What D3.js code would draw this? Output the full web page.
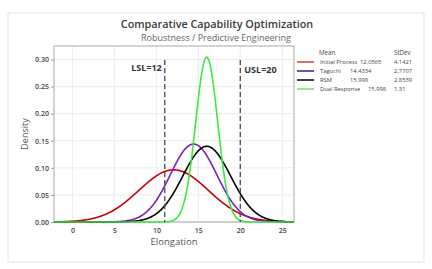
<!DOCTYPE html>
<html>
<head>
<meta charset="utf-8">
<script src="https://cdn.jsdelivr.net/npm/d3@7"></script>
<style>
  body { margin: 0; background: #fff; font-family: "Open Sans", "Noto Sans", sans-serif; }
</style>
</head>
<body>
<svg id="chart" width="432" height="269"></svg>
<script>
var width = 432
var height = 269
var margin = { top: 46, right: 138, bottom: 47, left: 54 }

// 数据
var seriesNames = ["Initial Process", "Taguchi", "RSM", "Dual Response"]
var seriesMeans = [12.0565, 14.4334, 15.998, 15.998]
var seriesSds = [4.1421, 2.7707, 2.8539, 1.31]
var seriesColors = ["#c8000a", "#7a1fc2", "#000000", "#3ee83e"]
var legendColors = ["#d24b4b", "#4a1fb0", "#111111", "#7ee07e"]
var xTicks = [0, 5, 10, 15, 20, 25]
var yTicks = [0, 0.05, 0.10, 0.15, 0.20, 0.25, 0.30]
var specLines = [{ label: "LSL=12", x: 11 }, { label: "USL=20", x: 20 }]

var svg = d3.select("#chart")

// 卡片背景
svg.append("rect")
    .attr("x", 8).attr("y", 13)
    .attr("width", 416).attr("height", 249)
    .attr("fill", "#fff")
    .attr("stroke", "#e3e3e3")

// 标题
svg.append("text")
    .attr("x", 217).attr("y", 28)
    .attr("text-anchor", "middle")
    .attr("font-size", 10.8).attr("font-weight", 600)
    .attr("fill", "#3a3a3a")
    .text("Comparative Capability Optimization")
svg.append("text")
    .attr("x", 216).attr("y", 40.5)
    .attr("text-anchor", "middle")
    .attr("font-size", 9)
    .attr("fill", "#666")
    .text("Robustness / Predictive Engineering")

var plotW = width - margin.left - margin.right
var plotH = height - margin.top - margin.bottom

var xScale = d3.scaleLinear().domain([-2.2, 26.4]).range([0, plotW])
var yScale = d3.scaleLinear().domain([0, 0.325]).range([plotH, 0])

var g = svg.append("g")
    .attr("transform", "translate(" + margin.left + "," + margin.top + ")")

// 网格
g.selectAll(".vgrid").data(xTicks).enter().append("line")
    .attr("x1", function (d) { return xScale(d) }).attr("x2", function (d) { return xScale(d) })
    .attr("y1", 0).attr("y2", plotH)
    .attr("stroke", "#ececec")
g.selectAll(".hgrid").data(yTicks).enter().append("line")
    .attr("x1", 0).attr("x2", plotW)
    .attr("y1", function (d) { return yScale(d) }).attr("y2", function (d) { return yScale(d) })
    .attr("stroke", "#ececec")

// 坐标轴
var xAxis = d3.axisBottom(xScale).tickValues(xTicks).tickSize(0).tickPadding(6).tickFormat(d3.format("d"))
var yAxis = d3.axisLeft(yScale).tickValues(yTicks).tickSize(3).tickPadding(2).tickFormat(d3.format(".2f"))
var xg = g.append("g").attr("transform", "translate(0," + plotH + ")").call(xAxis)
var yg = g.append("g").call(yAxis)
;[xg, yg].forEach(function (a) {
    a.select(".domain").remove()
    a.selectAll("line").attr("stroke", "#999")
    a.selectAll("text").attr("font-size", 7).attr("font-weight", 600).attr("fill", "#444")
        .attr("font-family", "Open Sans, sans-serif")
})

g.append("rect")
    .attr("width", plotW).attr("height", plotH)
    .attr("fill", "none").attr("stroke", "#a8a8a8")

// 坐标轴标题
svg.append("text")
    .attr("x", margin.left + plotW / 2).attr("y", 245)
    .attr("text-anchor", "middle")
    .attr("font-size", 9.5).attr("fill", "#555")
    .text("Elongation")
svg.append("text")
    .attr("transform", "translate(28," + (margin.top + plotH / 2) + ") rotate(-90)")
    .attr("text-anchor", "middle")
    .attr("font-size", 9).attr("fill", "#555")
    .text("Density")

// 密度曲线 (normal pdf from legend mean / stdev)
var xs = d3.range(-2.2, 26.41, 0.05)
function pdf(x, m, s) {
    return Math.exp(-0.5 * Math.pow((x - m) / s, 2)) / (s * Math.sqrt(2 * Math.PI))
}
var line = d3.line()
    .x(function (d) { return xScale(d[0]) })
    .y(function (d) { return yScale(d[1]) })
    .curve(d3.curveBasis)

seriesNames.forEach(function (name, i) {
    var pts = xs.map(function (x) { return [x, pdf(x, seriesMeans[i], seriesSds[i])] })
    g.append("path")
        .datum(pts)
        .attr("d", line)
        .attr("fill", "none")
        .attr("stroke", seriesColors[i])
        .attr("stroke-width", 1.6)
})

// 规格线
specLines.forEach(function (s, i) {
    g.append("line")
        .attr("x1", xScale(s.x)).attr("x2", xScale(s.x))
        .attr("y1", 14).attr("y2", plotH)
        .attr("stroke", "#555").attr("stroke-width", 1.4)
        .attr("stroke-dasharray", "5,3")
    g.append("text")
        .attr("x", i == 0 ? xScale(s.x) - 3 : xScale(s.x) + 4)
        .attr("y", i == 0 ? 25 : 27)
        .attr("text-anchor", i == 0 ? "end" : "start")
        .attr("font-size", 9).attr("font-weight", "bold").attr("fill", "#333")
        .text(s.label)
})

// 图例
var lg = svg.append("g").attr("font-size", 5.8).attr("fill", "#444")
lg.append("text").attr("x", 319).attr("y", 55).attr("font-size", 6.2).text("Mean")
lg.append("text").attr("x", 394).attr("y", 55).attr("font-size", 6.2).text("StDev")
var meanX = [360, 350, 350, 368]
seriesNames.forEach(function (name, i) {
    var y = 62 + i * 9
    lg.append("line")
        .attr("x1", 297).attr("x2", 314)
        .attr("y1", y).attr("y2", y)
        .attr("stroke", legendColors[i]).attr("stroke-width", 1.6)
    lg.append("text").attr("x", 320).attr("y", y + 2).text(name)
    lg.append("text").attr("x", meanX[i]).attr("y", y + 2).text(seriesMeans[i])
    lg.append("text").attr("x", 394).attr("y", y + 2).text(seriesSds[i])
})
</script>
</body>
</html>
